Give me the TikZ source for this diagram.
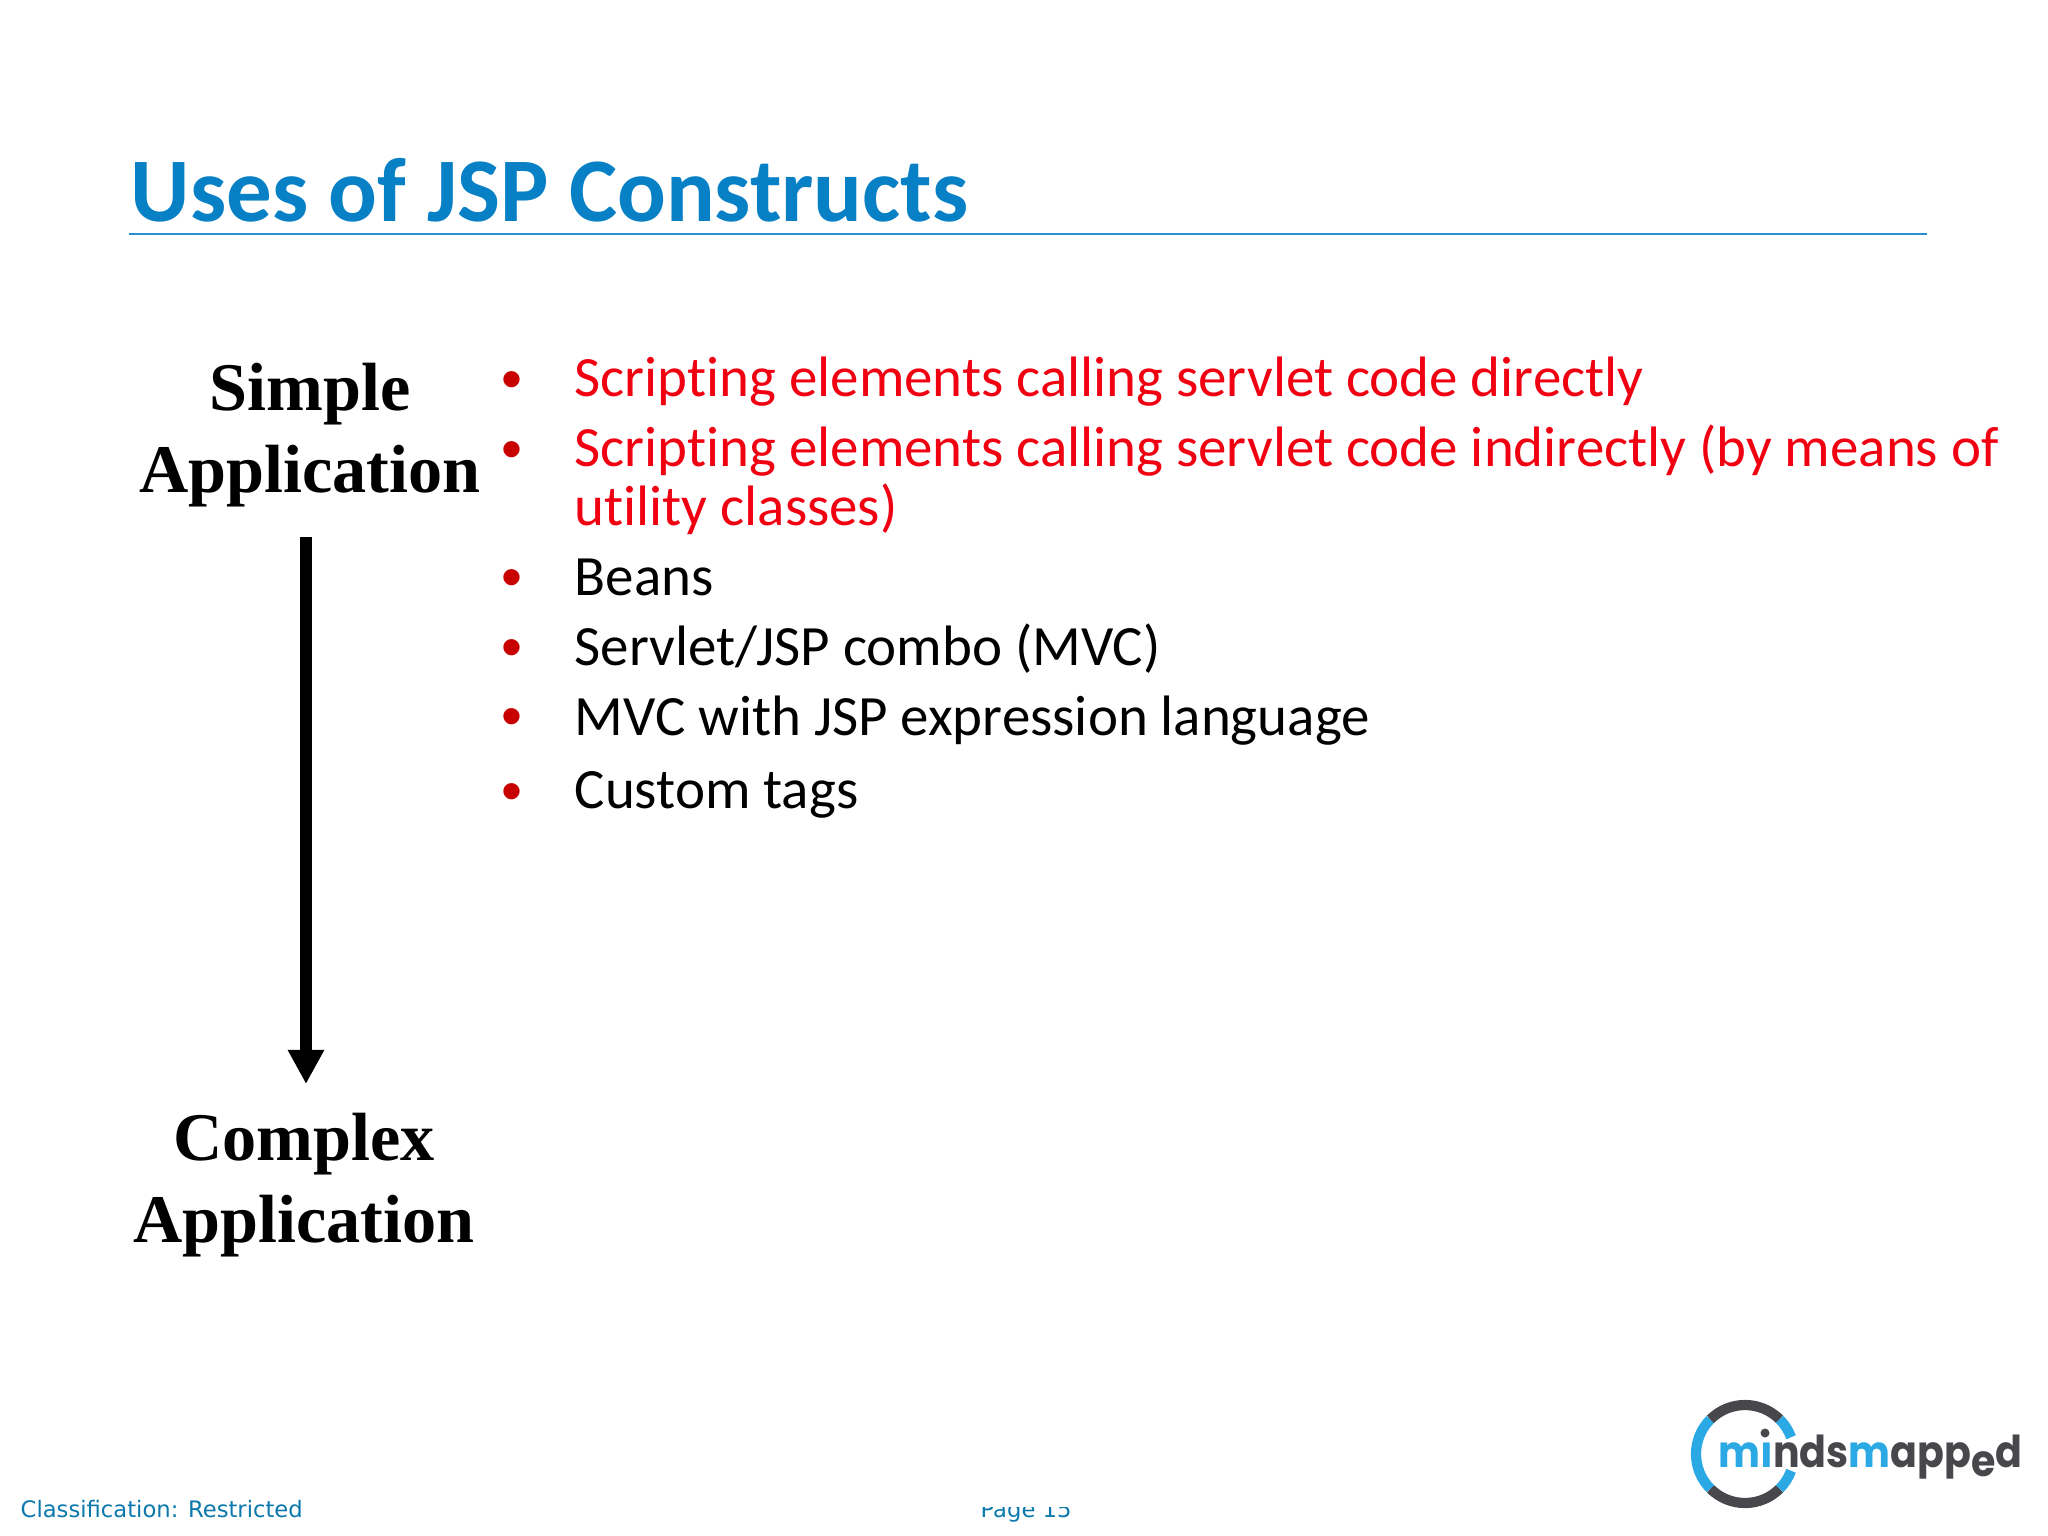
\documentclass[tikz,border=0pt]{standalone}
\usepackage{fontspec}
\usetikzlibrary{arrows.meta}
\newfontfamily\bodyfont[Ligatures=NoCommon]{Carlito}
\newfontfamily\sidefont{Liberation Serif}
\newfontfamily\bulletfont{Liberation Sans}
\newfontfamily\footfont{DejaVu Sans}
\newfontfamily\logofont{Poppins}
\definecolor{titleblue}{HTML}{0780C6}
\definecolor{ruleblue}{HTML}{2A8FD0}
\definecolor{footblue}{HTML}{0B78AC}
\definecolor{bulletred}{HTML}{C80000}
\definecolor{itemred}{HTML}{F00010}
\definecolor{logoblue}{HTML}{2BA9E4}
\definecolor{logodark}{HTML}{48484C}
\tikzset{
    itemtext/.style={anchor=base west, inner sep=0pt, font=\bodyfont\fontsize{16.2pt}{18pt}\selectfont},
    itemdot/.style={anchor=base, inner sep=0pt, bulletred, font=\bulletfont\fontsize{17pt}{18pt}\selectfont},
    sidetext/.style={anchor=base, inner sep=0pt, font=\sidefont\bfseries\fontsize{19.4pt}{24pt}\selectfont},
    logoarc/.style={line width=2.9pt, line cap=butt},
}
\begin{document}
\begin{tikzpicture}[x=0.01cm, y=-0.01cm]
    \useasboundingbox (0,0) rectangle (2048,1536);
    % title
    \node[anchor=base west, inner sep=0pt, titleblue, font=\bodyfont\bfseries\fontsize{25.85pt}{30pt}\selectfont] (title) at (130,221) {Uses of JSP Constructs};
    \coordinate (ruleleft) at (129,234);
    \coordinate (ruleright) at (1927,234);
    \draw[ruleblue, line width=0.5pt] (ruleleft) -- (ruleright);
    % left side
    \node[sidetext] (simple) at (310,410) {Simple};
    \node[sidetext] (appone) at (310,492) {Application};
    \node[sidetext] (complex) at (304,1160) {Complex};
    \node[sidetext] (apptwo) at (304,1242) {Application};
    \coordinate (arrowtop) at (306,537);
    \coordinate (arrowtip) at (306,1084);
    \draw[-{Triangle[length=9.7pt, width=9.7pt]}, line width=3.3pt] (arrowtop) -- (arrowtip);
    % bullets
    \node[itemdot] (dota) at (512,399) {•};
    \node[itemdot] (dotb) at (512,469) {•};
    \node[itemdot] (dotc) at (512,597) {•};
    \node[itemdot] (dotd) at (512,667) {•};
    \node[itemdot] (dote) at (512,736) {•};
    \node[itemdot] (dotf) at (512,811) {•};
    \node[itemtext, itemred] (itema) at (574,396.5) {Scripting elements calling servlet code directly};
    \node[itemtext, itemred] (itemb) at (574,466.5) {Scripting elements calling servlet code indirectly (by means of};
    \node[itemtext, itemred] (itembb) at (574,525.5) {utility classes)};
    \node[itemtext] (itemc) at (574,595.5) {Beans};
    \node[itemtext] (itemd) at (574,665.5) {Servlet/JSP combo (MVC)};
    \node[itemtext] (iteme) at (574,735.5) {MVC with JSP expression language};
    \node[itemtext] (itemf) at (574,808.5) {Custom tags};
    % footer
    \node[anchor=base west, inner sep=0pt, footblue, font=\footfont\fontsize{6.45pt}{8pt}\selectfont] (classif) at (20,1517) {Classification: Restricted};
    \begin{scope}
        \clip (960,1507) rectangle (1100,1536);
        \node[anchor=base, inner sep=0pt, footblue, font=\footfont\fontsize{6.45pt}{8pt}\selectfont] (pagenum) at (1026,1517) {Page 15};
    \end{scope}
    % logo
    \draw[logoarc, logodark] (1745,1454) ++(45:49) arc [start angle=45, end angle=135, radius=49];
    \draw[logoarc, logoblue] (1745,1454) ++(135:49) arc [start angle=135, end angle=225, radius=49];
    \draw[logoarc, logodark] (1745,1454) ++(225:49) arc [start angle=225, end angle=315, radius=49];
    \draw[logoarc, logoblue] (1745,1454) ++(45:49) arc [start angle=45, end angle=20, radius=49];
    \draw[logoarc, logoblue] (1745,1454) ++(315:49) arc [start angle=315, end angle=340, radius=49];
    \node[anchor=base west, inner sep=0pt, xscale=0.9, transform shape, font=\logofont\bfseries\fontsize{12.5pt}{14pt}\selectfont] (logotext) at (1718,1467) {\textcolor{logoblue}{mı}\textcolor{logodark}{nds}\textcolor{logoblue}{m}\textcolor{logodark}{app\raisebox{-2.6pt}{e}d}};
    \fill[logodark] (1765,1433) circle (4.5);
\end{tikzpicture}
\end{document}
